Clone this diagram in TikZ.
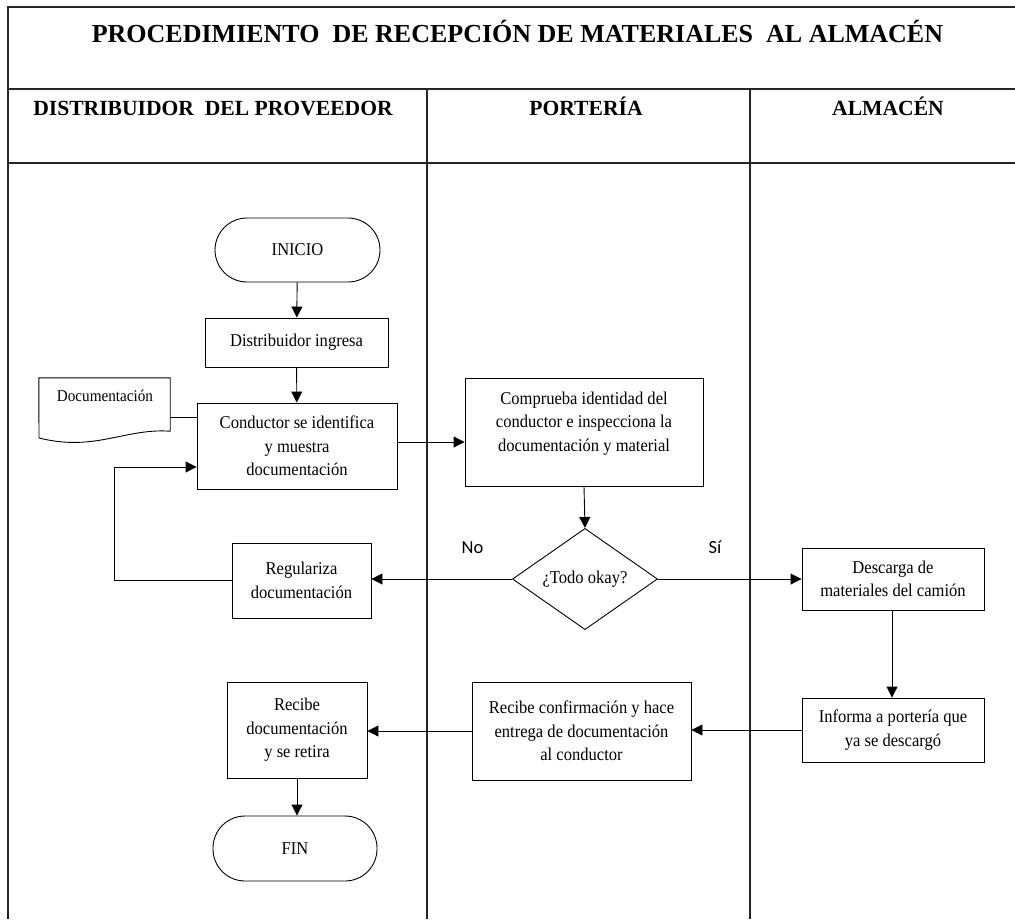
\documentclass[tikz,border=0pt]{standalone}
\usepackage{fontspec}
\setmainfont{Liberation Serif}
\newfontfamily\mySansFont{Carlito}
\newfontfamily\myBodyFamily[FakeStretch=0.92]{Liberation Serif}
\usetikzlibrary{shapes.geometric,arrows.meta,calc}
\newcommand\myBody{\myBodyFamily\fontsize{18}{23.5}\selectfont}
\newcommand\myDoc{\myBodyFamily\fontsize{16.5}{20}\selectfont}
\newcommand\myTitle{\fontsize{26}{30}\selectfont\bfseries}
\newcommand\myHead{\fontsize{21.6}{26}\selectfont\bfseries}
\newcommand\myLbl{\mySansFont\fontsize{18.5}{22}\selectfont}
\begin{document}
\begin{tikzpicture}[x=1pt,y=-1pt,
  frameline/.style={line width=1.4pt,draw=black!85},
  box/.style={draw,line width=0.9pt,rectangle,inner sep=0pt,align=center,font=\myBody},
  term/.style={box,rounded corners=32pt},
  decision/.style={draw,line width=0.9pt,diamond,inner sep=0pt,align=center,font=\myBody},
  conn/.style={line width=0.9pt},
  arr/.style={conn,-{Triangle[length=11pt,width=11pt]}},
  lbl/.style={font=\myLbl,anchor=base,inner sep=0pt}
]
\useasboundingbox (0,0) rectangle (1015,919);
\fill[white] (0,0) rectangle (1015,919);

% frame and lanes
\draw[frameline] (8,919) -- (8,7) -- (1015,7);
\draw[frameline] (8,89) -- (1015,89);
\draw[frameline] (8,163) -- (1015,163);
\draw[frameline] (427,89) -- (427,919);
\draw[frameline] (750,89) -- (750,919);

\node[font=\myTitle,anchor=base,inner sep=0pt] (title) at (517.5,42) {PROCEDIMIENTO\ \ DE RECEPCIÓN DE MATERIALES\ \ AL ALMACÉN};
\node[font=\myHead,anchor=base,inner sep=0pt] (h1) at (213,115) {DISTRIBUIDOR\ \ DEL PROVEEDOR};
\node[font=\myHead,anchor=base,inner sep=0pt] (h2) at (586,115) {PORTERÍA};
\node[font=\myHead,anchor=base,inner sep=0pt] (h3) at (888,115) {ALMACÉN};

% nodes
\node[term,minimum width=165,minimum height=64] (ini) at (297.5,250) {INICIO};
\node[box,minimum width=183,minimum height=49] (ing) at (296.5,342.5) {Distribuidor ingresa};
\node[box,minimum width=200,minimum height=86] (cond) at (297,446) {Conductor se identifica\\y muestra\\documentación};
\node[box,minimum width=238,minimum height=108] (cmp) at (584,432) {};
\node[font=\myBody,align=center,inner sep=0pt] (cmpt) at (584,423.5) {Comprueba identidad del\\conductor e inspecciona la\\documentación y material};
\node[decision,minimum width=145,minimum height=72] (dia) at (585,579) {¿Todo okay?};
\node[box,minimum width=139,minimum height=75] (reg) at (301.5,580.5) {Regulariza\\documentación};
\node[box,minimum width=182,minimum height=62] (desc) at (893,579) {Descarga de\\materiales del camión};
\node[box,minimum width=182,minimum height=64] (inf) at (893,730) {Informa a portería que\\ya se descargó};
\node[box,minimum width=219,minimum height=98] (rc) at (581.5,731) {Recibe confirmación y hace\\entrega de documentación\\al conductor};
\node[box,minimum width=140,minimum height=96] (rd) at (297,730) {Recibe\\documentación\\y se retira};
\node[term,minimum width=164,minimum height=65] (fin) at (295,848.5) {FIN};

% document shape
\node[minimum width=131,minimum height=53,inner sep=0pt] (doc) at (104.5,404.5) {};
\draw[conn] (doc.north west) -- (doc.north east) -- (doc.south east)
  .. controls (125,428) and (95,452) .. (39,438) -- cycle;
\node[font=\myDoc,inner sep=0pt] (doct) at (105,396) {Documentación};

% labels
\node[lbl] (no) at (472.5,553) {No};
\node[lbl] (si) at (715,553) {Sí};

% connectors
\draw[arr] (ini) -- (ing);
\draw[arr] (ing) -- (cond);
\coordinate (dl) at ([yshift=-12.5pt]doc.east);
\draw[conn] (dl) -- (dl -| cond.west);
\coordinate (c1) at ([yshift=-10pt]cmp.west);
\draw[arr] (c1 -| cond.east) -- (c1);
\draw[arr] (cmp.south) -- (dia.north);
\draw[arr] (dia.west) -- (dia.west -| reg.east);
\coordinate (lp) at (114,467);
\draw[arr] (reg.west) -| (lp) -- (lp -| cond.west);
\draw[arr] (dia.east) -- (dia.east -| desc.west);
\draw[arr] ([xshift=-1pt]desc.south) -- ([xshift=-1pt]inf.north);
\draw[arr] (inf.west) -- (inf.west -| rc.east);
\draw[arr] (rc.west) -- (rc.west -| rd.east);
\draw[arr] (rd.south) -- (rd.south |- fin.north);
\end{tikzpicture}
\end{document}
